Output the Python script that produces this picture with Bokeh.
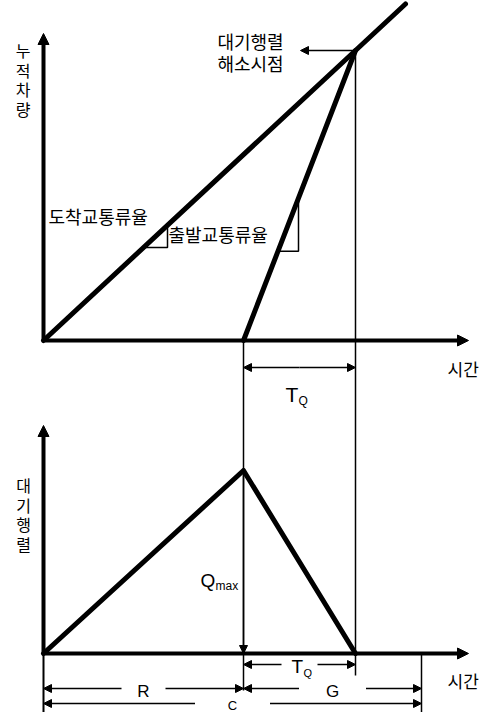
from bokeh.plotting import figure
from bokeh.models import Range1d, Arrow, NormalHead
from bokeh.core.properties import value
from bokeh.embed import file_html
from bokeh.resources import INLINE

# ---- data (time units / vehicle units) ----
R = 40.0            # red interval
G = 35.6            # green interval
C = R + G           # cycle length
T_CLEAR = 62.4      # time at which the queue clears
TQ = T_CLEAR - R    # queue clearance time

arr_t = [0.0, 62.4, 72.4]     # cumulative arrivals
arr_n = [0.0, 58.0, 67.3]
dep_t = [40.0, 62.4]          # cumulative departures
dep_n = [0.0, 58.0]
q_t = [0.0, 40.0, 62.4]       # queue length
q_n = [0.0, 36.6, 0.0]

slope_arr_t = [20.0, 24.8]    # slope marker on the arrival curve
slope_dep_t = [46.9, 51.0]    # slope marker on the departure curve

top_y_max = 61.4              # extent of upper vertical axis
bot_y_max = 45.6              # extent of lower vertical axis
x_max = 85.0                  # extent of time axes

lbl_cum = "누\n적\n차\n량"
lbl_queue = "대\n기\n행\n렬"
lbl_time = "시간"
lbl_clear = ["대기행렬", "해소시점"]
lbl_arr = "도착교통류율"
lbl_dep = "출발교통류율"

# ---- layout ----
TOP = 62.6   # baseline of the upper panel in plot units
BOT = -11.8  # bottom edge of the drawing
KR = value("Noto Sans CJK KR")
LAT = value("Liberation Sans")

p = figure(width=489, height=712, x_range=Range1d(-8.6, 89.2), y_range=Range1d(BOT, 130.6),
           toolbar_location=None, output_backend="svg", min_border=0,
           outline_line_color=None, x_axis_location=None, y_axis_location=None,
           background_fill_color="white", border_fill_color="white")
p.grid.visible = False


def arrow(x0, y0, x1, y1, lw=1.5, size=8):
    p.add_layout(Arrow(end=NormalHead(size=size, fill_color="black", line_color="black", line_width=1),
                       x_start=x0, y_start=y0, x_end=x1, y_end=y1,
                       line_width=lw, line_color="black"))


# ---------------- upper panel ----------------
arrow(0, TOP, 0, TOP + top_y_max, lw=4, size=11)
arrow(0, TOP, x_max, TOP, lw=4, size=11)
p.line(arr_t, [TOP + n for n in arr_n], line_width=5, line_color="black", line_cap="round")
p.line(dep_t, [TOP + n for n in dep_n], line_width=5, line_color="black", line_cap="round")

# slope markers
ra = arr_n[1] / arr_t[1]
rd = dep_n[1] / (dep_t[1] - dep_t[0])
na = ra * slope_arr_t[0]
p.line([slope_arr_t[0], slope_arr_t[1], slope_arr_t[1]],
       [TOP + na, TOP + na, TOP + ra * slope_arr_t[1]], line_width=1.5, line_color="black")
nd = rd * (slope_dep_t[0] - dep_t[0])
p.line([slope_dep_t[0], slope_dep_t[1], slope_dep_t[1]],
       [TOP + nd, TOP + nd, TOP + rd * (slope_dep_t[1] - dep_t[0])], line_width=1.5, line_color="black")

# clearance point arrow
arrow(T_CLEAR, TOP + arr_n[1], T_CLEAR - 11.0, TOP + arr_n[1])

# vertical guide lines
p.line([T_CLEAR, T_CLEAR], [TOP + arr_n[1], -4.4], line_width=1.5, line_color="black")
p.line([R, R], [TOP, -7.4], line_width=1.5, line_color="black")

# TQ dimension (upper)
mid = (R + T_CLEAR) / 2
arrow(mid, TOP - 5.4, R, TOP - 5.4)
arrow(mid, TOP - 5.4, T_CLEAR, TOP - 5.4)

p.text(x=[-4.1], y=[114.8], text=[lbl_cum], text_font=KR, text_font_size="16px",
       text_align="center", text_baseline="middle", text_line_height=0.81, text_color="black")
p.text(x=[41.4, 41.4], y=[122.6, 118.2], text=lbl_clear, text_font=KR, text_font_size="18px",
       text_align="center", text_baseline="middle", text_color="black")
p.text(x=[1.0], y=[87.6], text=[lbl_arr], text_font=KR, text_font_size="18px",
       text_align="left", text_baseline="middle", text_color="black")
p.text(x=[25.0], y=[84.0], text=[lbl_dep], text_font=KR, text_font_size="18px",
       text_align="left", text_baseline="middle", text_color="black")
p.text(x=[80.8], y=[57.0], text=[lbl_time], text_font=KR, text_font_size="17px",
       text_align="left", text_baseline="middle", text_color="black")
p.text(x=[48.4], y=[51.8], text=["T"], text_font=LAT, text_font_size="21px",
       text_align="left", text_baseline="middle", text_color="black")
p.text(x=[51.0], y=[50.6], text=["Q"], text_font=LAT, text_font_size="12px",
       text_align="left", text_baseline="middle", text_color="black")

# ---------------- lower panel ----------------
arrow(0, 0, 0, bot_y_max, lw=4, size=11)
arrow(0, 0, x_max, 0, lw=4, size=11)
p.line([0, 0], [0, BOT], line_width=2, line_color="black")
p.line(q_t, q_n, line_width=5, line_color="black", line_join="round", line_cap="round")
arrow(R, q_n[1], R, 0)     # Qmax

p.line([C, C], [0, BOT], line_width=1.5, line_color="black")

# TQ dimension (lower)
arrow(mid - 3.6, -2.2, R, -2.2)
arrow(mid + 3.6, -2.2, T_CLEAR, -2.2)
# R, G, C dimensions
arrow(R / 2 - 4.4, -7.0, 0, -7.0)
arrow(R / 2 + 4.4, -7.0, R, -7.0)
gm = (R + C) / 2
arrow(gm - 6.7, -7.0, R, -7.0)
arrow(gm + 6.7, -7.0, C, -7.0)
cm = C / 2
arrow(cm - 7.5, -10.0, 0, -10.0)
arrow(cm + 7.5, -10.0, C, -10.0)

p.text(x=[-4.0], y=[27.8], text=[lbl_queue], text_font=KR, text_font_size="16px",
       text_align="center", text_baseline="middle", text_line_height=0.81, text_color="black")
p.text(x=[31.4], y=[14.6], text=["Q"], text_font=LAT, text_font_size="19px",
       text_align="left", text_baseline="middle", text_color="black")
p.text(x=[34.4], y=[13.6], text=["max"], text_font=LAT, text_font_size="12px",
       text_align="left", text_baseline="middle", text_color="black")
p.text(x=[49.6], y=[-2.6], text=["T"], text_font=LAT, text_font_size="19px",
       text_align="left", text_baseline="middle", text_color="black")
p.text(x=[52.0], y=[-3.8], text=["Q"], text_font=LAT, text_font_size="11px",
       text_align="left", text_baseline="middle", text_color="black")
p.text(x=[80.8], y=[-5.4], text=[lbl_time], text_font=KR, text_font_size="17px",
       text_align="left", text_baseline="middle", text_color="black")
p.text(x=[R / 2, gm], y=[-7.6, -7.6], text=["R", "G"], text_font=LAT, text_font_size="17px",
       text_align="center", text_baseline="middle", text_color="black")
p.text(x=[cm], y=[-10.4], text=["C"], text_font=LAT, text_font_size="13px",
       text_align="center", text_baseline="middle", text_color="black")

open("out.html", "w").write(file_html(p, INLINE))
